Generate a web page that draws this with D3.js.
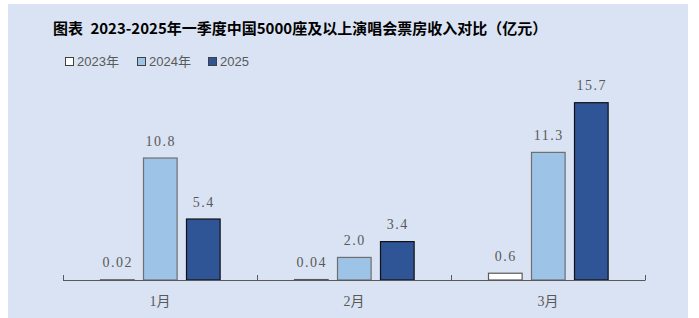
<!DOCTYPE html>
<html>
<head>
<meta charset="utf-8">
<script src="https://cdn.jsdelivr.net/npm/d3@7"></script>
<style>
    body { margin: 0; background: #fff; }
    svg { display: block; }
    .title { font-family: "Noto Sans CJK SC", sans-serif; font-weight: bold; font-size: 15px; fill: #000; white-space: pre; }
    .legend-text { font-family: "Liberation Sans", "Noto Sans CJK SC", sans-serif; font-size: 13px; fill: #595959; }
    .value-label { font-family: "Liberation Serif", serif; font-size: 14px; fill: #595959; letter-spacing: 1.5px; }
    .cat-label { font-family: "Liberation Serif", "Noto Sans CJK SC", serif; font-size: 14px; fill: #595959; }
</style>
</head>
<body>
<div id="chart"></div>
<script>
const titleText = '图表 2023-2025年一季度中国5000座及以上演唱会票房收入对比（亿元）';
const months = ['1月', '2月', '3月'];
const seriesNames = ['2023年', '2024年', '2025'];
const values2023 = [0.02, 0.04, 0.6];
const values2024 = [10.8, 2.0, 11.3];
const values2025 = [5.4, 3.4, 15.7];
const valueLabels2023 = ['0.02', '0.04', '0.6'];
const valueLabels2024 = ['10.8', '2.0', '11.3'];
const valueLabels2025 = ['5.4', '3.4', '15.7'];

const width = 699;
const height = 318;
const axisY = 280;

const fills = ['#ffffff', '#9dc3e6', '#2f5597'];
const strokes = ['#595959', '#6f6f6f', '#111111'];

const seriesValues = [values2023, values2024, values2025];
const seriesLabels = [valueLabels2023, valueLabels2024, valueLabels2025];

const svg = d3.select('#chart').append('svg')
    .attr('width', width)
    .attr('height', height);

// panel background
svg.append('rect')
    .attr('x', 8)
    .attr('y', 4)
    .attr('width', 680)
    .attr('height', 314)
    .attr('fill', '#dae3f3');

// title: a small gap after 图表
const title = svg.append('text')
    .attr('class', 'title')
    .attr('x', 53)
    .attr('y', 34);
title.append('tspan').text(titleText.slice(0, 2));
title.append('tspan').attr('dx', 4).text(titleText.slice(2));

// legend
const legendX = [65, 137, 208];
const legend = svg.selectAll('.legend-item')
    .data(seriesNames)
    .enter()
    .append('g')
    .attr('class', 'legend-item')
    .attr('transform', (d, i) => `translate(${legendX[i]},57)`);
legend.append('rect')
    .attr('x', 0.5)
    .attr('y', 0.5)
    .attr('width', 8)
    .attr('height', 8)
    .attr('fill', (d, i) => fills[i])
    .attr('stroke', '#404040');
legend.append('text')
    .attr('class', 'legend-text')
    .attr('x', 12)
    .attr('y', 9)
    .text(d => d);

// scales
const x0 = d3.scaleBand()
    .domain(months)
    .range([63, 645])
    .paddingInner(0)
    .paddingOuter(0);

const x1 = d3.scaleBand()
    .domain(seriesNames)
    .range([0, x0.bandwidth()])
    .paddingInner(0.22)
    .paddingOuter(0.86);

const y = d3.scaleLinear()
    .domain([0, 17])
    .range([axisY, axisY - 17 * 11.293]);

// bars
const barData = [];
months.forEach((m, mi) => {
    seriesNames.forEach((s, si) => {
        barData.push({ month: m, series: s, si: si, value: seriesValues[si][mi], label: seriesLabels[si][mi] });
    });
});

const bars = svg.append('g').attr('class', 'bars');
bars.selectAll('rect')
    .data(barData)
    .enter()
    .append('rect')
    .attr('x', d => Math.round(x0(d.month) + x1(d.series)) + 0.5)
    .attr('y', d => y(d.value))
    .attr('width', x1.bandwidth())
    .attr('height', d => axisY - y(d.value))
    .attr('fill', d => fills[d.si])
    .attr('stroke', d => strokes[d.si])
    .attr('stroke-width', 1.2);

bars.selectAll('text')
    .data(barData)
    .enter()
    .append('text')
    .attr('class', 'value-label')
    .attr('x', d => x0(d.month) + x1(d.series) + x1.bandwidth() / 2 + 0.75)
    .attr('y', d => y(d.value) - 12.5)
    .attr('text-anchor', 'middle')
    .text(d => d.label);

// axis
const axis = svg.append('g')
    .attr('transform', `translate(0,${axisY})`)
    .call(d3.axisBottom(x0).tickSize(0).tickFormat(''));
axis.select('.domain').remove();
axis.append('line')
    .attr('x1', 63).attr('x2', 645)
    .attr('y1', 0.5).attr('y2', 0.5)
    .attr('stroke', '#595959')
    .attr('stroke-width', 1.2);
const boundaries = months.map(m => x0(m)).concat([x0.range()[1]]);
axis.selectAll('.boundary')
    .data(boundaries)
    .enter()
    .append('line')
    .attr('class', 'boundary')
    .attr('x1', d => Math.round(d) + 0.5)
    .attr('x2', d => Math.round(d) + 0.5)
    .attr('y1', -5)
    .attr('y2', 0.5)
    .attr('stroke', '#595959');

svg.selectAll('.cat-label')
    .data(months)
    .enter()
    .append('text')
    .attr('class', 'cat-label')
    .attr('x', d => x0(d) + x0.bandwidth() / 2)
    .attr('y', 306)
    .attr('text-anchor', 'middle')
    .text(d => d);
</script>
</body>
</html>
